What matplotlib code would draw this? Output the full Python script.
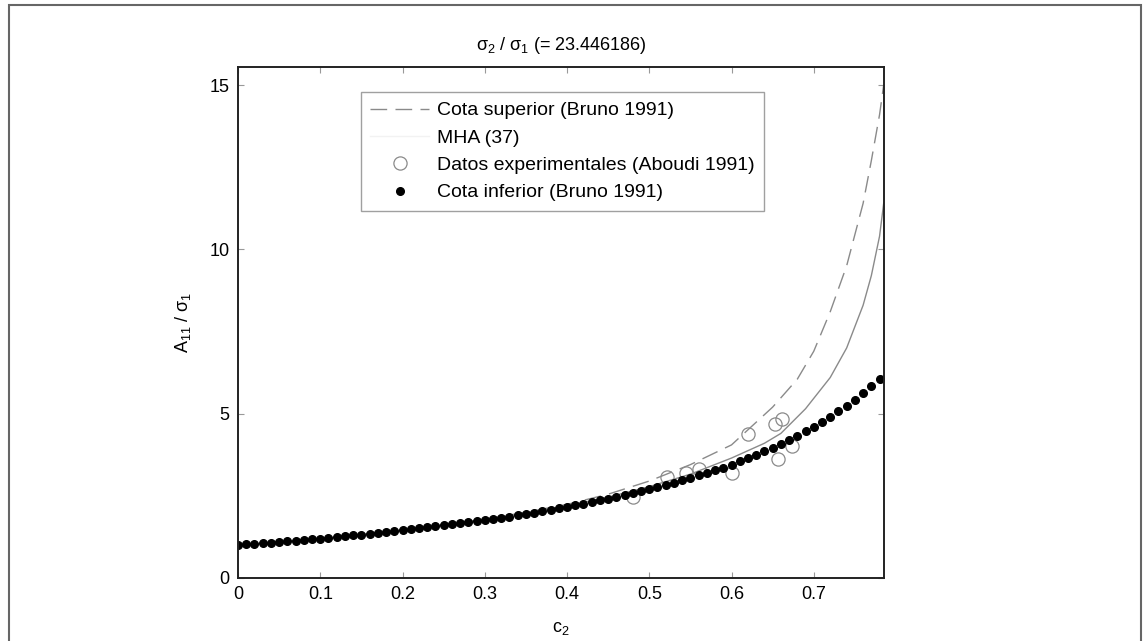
import numpy as np
import matplotlib
matplotlib.use("Agg")
import matplotlib.pyplot as plt
from matplotlib.lines import Line2D
from matplotlib.patches import Rectangle

plt.rcParams['font.family'] = ['Liberation Sans', 'DejaVu Sans']
plt.rcParams['mathtext.fontset'] = 'custom'
plt.rcParams['mathtext.rm'] = 'Liberation Sans'
plt.rcParams['mathtext.it'] = 'Liberation Sans'
plt.rcParams['mathtext.bf'] = 'Liberation Sans'

# ---- data ----
c_lower = np.round(np.arange(0, 0.785, 0.01), 2)
lower = [1.00, 1.02, 1.04, 1.06, 1.08, 1.10, 1.12, 1.14, 1.16, 1.18,
         1.20, 1.22, 1.25, 1.27, 1.30, 1.32, 1.34, 1.37, 1.40, 1.42,
         1.45, 1.48, 1.51, 1.54, 1.57, 1.60, 1.63, 1.66, 1.69, 1.73,
         1.76, 1.80, 1.83, 1.87, 1.91, 1.95, 1.99, 2.03, 2.07, 2.12,
         2.16, 2.21, 2.26, 2.30, 2.36, 2.41, 2.46, 2.52, 2.58, 2.64,
         2.70, 2.76, 2.83, 2.90, 2.97, 3.04, 3.12, 3.20, 3.28, 3.36,
         3.45, 3.55, 3.64, 3.74, 3.85, 3.96, 4.08, 4.20, 4.32, 4.46,
         4.60, 4.75, 4.90, 5.07, 5.24, 5.42, 5.62, 5.83, 6.05]

c_upper = [0, 0.1, 0.2, 0.3, 0.35, 0.4, 0.45, 0.5, 0.55, 0.6, 0.65, 0.68,
           0.7, 0.72, 0.74, 0.76, 0.77, 0.78, 0.785]
upper = [1.0, 1.21, 1.46, 1.79, 2.0, 2.24, 2.55, 2.95, 3.45, 4.05, 5.2, 6.05,
         6.9, 8.1, 9.5, 11.4, 12.7, 14.1, 15.0]

c_mha = [0, 0.1, 0.2, 0.3, 0.4, 0.45, 0.5, 0.55, 0.6, 0.64, 0.66, 0.69, 0.72,
         0.74, 0.76, 0.77, 0.78, 0.785]
mha = [1.0, 1.2, 1.45, 1.77, 2.19, 2.46, 2.78, 3.16, 3.65, 4.1, 4.4, 5.15, 6.1,
       7.0, 8.3, 9.2, 10.4, 11.4]

c_exp = [0.48, 0.521, 0.545, 0.561, 0.60, 0.62, 0.653, 0.657, 0.661, 0.673]
exp_v = [2.47, 3.08, 3.18, 3.32, 3.21, 4.39, 4.70, 3.62, 4.84, 4.01]

labels = ['Cota superior (Bruno 1991)', 'MHA (37)',
          'Datos experimentales (Aboudi 1991)', 'Cota inferior (Bruno 1991)']
xticks = [0, 0.1, 0.2, 0.3, 0.4, 0.5, 0.6, 0.7]
xticklabels = ['0', '0.1', '0.2', '0.3', '0.4', '0.5', '0.6', '0.7']
yticks = [0, 5, 10, 15]

# ---- figure ----
fig = plt.figure(figsize=(11.43, 6.41), dpi=100)
ax = fig.add_axes([238 / 1143, (641 - 578) / 641, (884 - 238) / 1143, (578 - 67) / 641])

ax.plot(c_upper, upper, color='#8a8a8a', lw=1.0, dashes=(12, 6))
ax.plot(c_mha, mha, color='#8a8a8a', lw=1.0)
ax.plot(c_exp, exp_v, 'o', ms=9.5, mfc='none', mec='#8a8a8a', mew=0.9)
ax.plot(c_lower, lower, 'o', ms=5.5, color='black', mec='black')

ax.set_xlim(0, 0.7854)
ax.set_ylim(0, 15.55)
ax.set_xticks(xticks)
ax.set_xticklabels(xticklabels)
ax.set_yticks(yticks)
ax.tick_params(direction='in', length=4, width=0.8, color='#999999',
               labelsize=13, top=True, right=True, pad=6)
for s in ax.spines.values():
    s.set_color('#222222')
    s.set_linewidth(1.4)

ax.set_title(r'$\sigma_2$ / $\sigma_1$ (= 23.446186)', fontsize=13, pad=12)
ax.set_xlabel(r'c$_2$', fontsize=13, labelpad=12)
ax.set_ylabel(r'A$_{11}$ / $\sigma_1$', fontsize=13, labelpad=12)

handles = [
    Line2D([], [], color='#8a8a8a', lw=1.0, dashes=(12, 6)),
    Line2D([], [], color='#f2f2f2', lw=1.0),
    Line2D([], [], ls='none', marker='o', ms=9.5, mfc='none', mec='#8a8a8a', mew=0.9),
    Line2D([], [], ls='none', marker='o', ms=5.5, color='black'),
]
leg = ax.legend(handles, labels, loc='upper left', bbox_to_anchor=(0.19, 0.951),
                fontsize=14, frameon=True, fancybox=False, edgecolor='#888888',
                handlelength=3.0, handletextpad=0.4, labelspacing=0.5,
                borderpad=0.5, borderaxespad=0)
leg.get_frame().set_linewidth(1.0)

# outer frame
fig.patches.append(Rectangle((9 / 1143, -0.02), (1141 - 9) / 1143, (641 - 5) / 641 + 0.02,
                             transform=fig.transFigure, fill=False,
                             edgecolor='#666666', lw=1.5))

fig.savefig('out.png', dpi=100)
